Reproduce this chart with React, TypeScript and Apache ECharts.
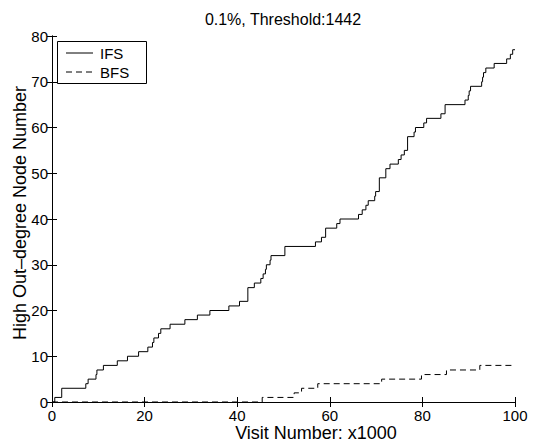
import React, { useEffect, useRef } from "react";
import * as echarts from "echarts";

const titleText = "0.1%, Threshold:1442";
const xName = "Visit Number: x1000";
const yName = "High Out–degree Node Number";
const seriesNames = ["IFS", "BFS"];

const xTicks = [0, 20, 40, 60, 80, 100];
const yTicks = [0, 10, 20, 30, 40, 50, 60, 70, 80];

// IFS: x positions (x1000 visits) where the count changes, and the new count
const ifsX = [0, 0.6, 2.1, 7.3, 7.8, 9.5, 9.7, 11.1, 14.1, 16.3, 18.7, 20.7, 21.7, 22.0, 23.0, 23.5, 25.5, 28.7, 31.4, 34.1, 38.2, 40.5, 42.3, 43.7, 45.1, 45.6, 46.1, 46.3, 47.1, 47.3, 50.3, 56.9, 58.2, 59.1, 61.5, 62.2, 66.2, 67.0, 67.8, 68.3, 69.7, 69.9, 70.7, 72.1, 73.0, 74.8, 75.4, 76.1, 76.8, 78.2, 78.5, 80.3, 80.9, 84.0, 84.9, 89.2, 89.9, 90.1, 90.4, 92.8, 93.0, 93.2, 93.7, 95.5, 98.2, 99.0, 99.5, 100];
const ifsY = [0, 1, 3, 4, 5, 6, 7, 8, 9, 10, 11, 12, 13, 14, 15, 16, 17, 18, 19, 20, 21, 22, 25, 26, 27, 28, 29, 30, 31, 32, 34, 35, 36, 38, 39, 40, 41, 42, 43, 44, 45, 46, 49, 51, 52, 53, 54, 55, 58, 59, 60, 61, 62, 63, 65, 66, 67, 68, 69, 70, 71, 72, 73, 74, 75, 76, 77, 77];

// BFS
const bfsX = [0, 45.4, 52.3, 53.9, 57.4, 71.2, 79.8, 85.2, 92.4, 100];
const bfsY = [0, 1, 2, 3, 4, 5, 6, 7, 8, 8];

const FONT = "'Liberation Sans', Arial, Helvetica, sans-serif";

export default function App() {
  const ref = useRef<HTMLDivElement>(null);
  useEffect(() => {
    if (!ref.current) return;
    const chart = echarts.init(ref.current, null, { renderer: "svg" });
    const axisCommon = {
      type: "value" as const,
      axisLine: { show: true, lineStyle: { color: "#000", width: 1 } },
      axisTick: { show: true, inside: true, length: 5, lineStyle: { color: "#000", width: 1 } },
      splitLine: { show: false },
    };
    const xmin = xTicks[0];
    const xmax = xTicks[xTicks.length - 1];
    const xint = xTicks[1] - xTicks[0];
    const ymin = yTicks[0];
    const ymax = yTicks[yTicks.length - 1];
    const yint = yTicks[1] - yTicks[0];
    const textStyle = (text: string, size: number, align: string) => ({
      text,
      fill: "#000",
      fontSize: size,
      fontFamily: FONT,
      textAlign: align,
      textVerticalAlign: "middle",
    });
    chart.setOption({
      animation: false,
      backgroundColor: "#fff",
      grid: { left: 52, right: 21, top: 36, bottom: 41, containLabel: false },
      xAxis: [
        {
          ...axisCommon,
          position: "bottom",
          min: xmin,
          max: xmax,
          interval: xint,
          axisLabel: { show: true, color: "#000", fontSize: 15, fontFamily: FONT, margin: 6 },
        },
        {
          ...axisCommon,
          position: "top",
          min: xmin,
          max: xmax,
          interval: xint,
          axisLabel: { show: false },
        },
      ],
      yAxis: [
        {
          ...axisCommon,
          position: "left",
          min: ymin,
          max: ymax,
          interval: yint,
          axisLabel: { show: true, color: "#000", fontSize: 15, fontFamily: FONT, margin: 4 },
        },
        {
          ...axisCommon,
          position: "right",
          min: ymin,
          max: ymax,
          interval: yint,
          axisLabel: { show: false },
        },
      ],
      series: [
        {
          name: seriesNames[0],
          type: "line",
          step: "end",
          symbol: "none",
          data: ifsX.map((x, i) => [x, ifsY[i]]),
          lineStyle: { color: "#000", width: 1, type: "solid" },
          itemStyle: { color: "#000" },
        },
        {
          name: seriesNames[1],
          type: "line",
          step: "end",
          symbol: "none",
          data: bfsX.map((x, i) => [x, bfsY[i]]),
          lineStyle: { color: "#000", width: 1, type: [6, 4] },
          itemStyle: { color: "#000" },
        },
      ],
      graphic: [
        { type: "text", x: 283, y: 19, style: textStyle(titleText, 16, "center") },
        { type: "text", x: 316, y: 433, style: textStyle(xName, 18, "center") },
        {
          type: "text",
          x: 20,
          y: 213,
          rotation: Math.PI / 2,
          style: textStyle(yName, 18, "center"),
        },
        {
          type: "group",
          z: 100,
          children: [
            {
              type: "rect",
              shape: { x: 57.5, y: 41.5, width: 89, height: 42 },
              style: { fill: "#fff", stroke: "#000", lineWidth: 1 },
            },
            {
              type: "line",
              shape: { x1: 66, y1: 53, x2: 93, y2: 53 },
              style: { stroke: "#000", lineWidth: 1 },
            },
            {
              type: "line",
              shape: { x1: 66, y1: 72, x2: 93, y2: 72 },
              style: { stroke: "#000", lineWidth: 1, lineDash: [6, 4] },
            },
            { type: "text", x: 100, y: 53, style: textStyle(seriesNames[0], 15, "left") },
            { type: "text", x: 100, y: 72, style: textStyle(seriesNames[1], 15, "left") },
          ],
        },
      ],
    });
    return () => chart.dispose();
  }, []);
  return (
    <div
      ref={ref}
      style={{ position: "fixed", left: 0, top: 0, width: 536, height: 443, background: "#fff" }}
    />
  );
}
